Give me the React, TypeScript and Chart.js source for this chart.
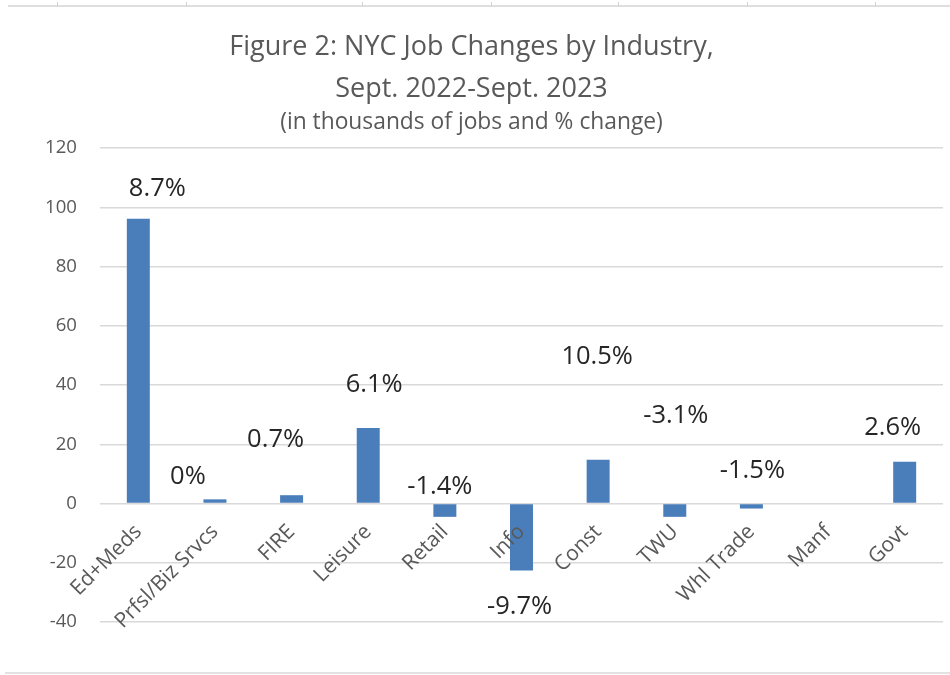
import React, { useEffect, useRef } from 'react';
import { Chart, registerables } from 'chart.js';

Chart.register(...registerables);

// ---- data ----
const categories = ['Ed+Meds', 'Prfsl/Biz Srvcs', 'FIRE', 'Leisure', 'Retail', 'Info', 'Const', 'TWU', 'Whl Trade', 'Manf', 'Govt'];
const jobChangeThousands = [96.1, 1.4, 2.8, 25.5, -4.5, -22.6, 14.8, -4.5, -1.7, 0, 14.1];
const pctChangeLabels = ['8.7%', '0%', '0.7%', '6.1%', '-1.4%', '-9.7%', '10.5%', '-3.1%', '-1.5%', '', '2.6%'];
// where each % label sits, in y-axis units (labels were placed by hand in the original)
const pctLabelAnchor = [106.3, 8.9, 21.6, 40.1, 5.5, -34.8, 49.5, 29.7, 10.9, null, 25.6];
const pctLabelShiftPx = [19, -27, -16, 6, -5, -2, -1, 1, 1, 0, -12];
const yMin = -40;
const yMax = 120;
const yStep = 20;
const titleLines = ['Figure 2: NYC Job Changes by Industry,', 'Sept. 2022-Sept. 2023'];
const subtitleText = '(in thousands of jobs and % change)';

const FONT = '"Open Sans"';
const GREY = '#595959';
const GRID = '#d9d9d9';
const BAR = '#4a7ebb';

const pctLabelPlugin = {
  id: 'pctLabels',
  afterDatasetsDraw(chart: any) {
    const { ctx } = chart;
    const x = chart.scales.x;
    const y = chart.scales.y;
    ctx.save();
    ctx.font = `25.5px ${FONT}`;
    ctx.fillStyle = '#262626';
    ctx.textAlign = 'center';
    ctx.textBaseline = 'middle';
    pctChangeLabels.forEach((t, i) => {
      const a = pctLabelAnchor[i];
      if (!t || a === null) return;
      ctx.fillText(t, x.getPixelForValue(i) + pctLabelShiftPx[i], y.getPixelForValue(a));
    });
    ctx.restore();
  },
};

export default function App() {
  const ref = useRef<HTMLCanvasElement | null>(null);

  useEffect(() => {
    if (!ref.current) return;
    const chart = new Chart(ref.current, {
      type: 'bar',
      data: {
        labels: categories,
        datasets: [
          {
            data: jobChangeThousands,
            backgroundColor: BAR,
            borderWidth: 0,
            barPercentage: 0.3,
            categoryPercentage: 1,
          },
        ],
      },
      options: {
        animation: false,
        responsive: false,
        maintainAspectRatio: false,
        layout: { padding: { left: 0, right: 7, top: 0, bottom: 53 } },
        plugins: {
          legend: { display: false },
          tooltip: { enabled: false },
          title: {
            display: true,
            text: titleLines,
            color: GREY,
            font: { family: FONT, size: 27, weight: 'normal', lineHeight: 1.556 },
            padding: { top: 26, bottom: 0 },
          },
          subtitle: {
            display: true,
            text: subtitleText,
            color: GREY,
            font: { family: FONT, size: 22.8, weight: 'normal', lineHeight: 1.1 },
            padding: { top: 0, bottom: 12.9 },
          },
        },
        scales: {
          x: {
            type: 'category',
            position: { y: 0 } as any,
            grid: { display: false, drawTicks: false },
            border: { display: false },
            ticks: {
              z: 1,
              autoSkip: false,
              minRotation: 45,
              maxRotation: 45,
              color: GREY,
              font: { family: FONT, size: 21 },
              padding: 16,
            },
          },
          y: {
            min: yMin,
            max: yMax,
            ticks: {
              stepSize: yStep,
              color: GREY,
              font: { family: FONT, size: 18.6 },
              padding: 23,
            },
            grid: { color: GRID, lineWidth: 1.5, drawTicks: false },
            border: { display: false },
            afterFit(scale: any) {
              scale.width = 100;
            },
          },
        },
      },
      plugins: [pctLabelPlugin],
    } as any);
    return () => chart.destroy();
  }, []);

  const tickXs = [57, 186, 362, 491, 618, 747, 875];

  return (
    <div style={{ position: 'absolute', left: 0, top: 0, width: 950, height: 675, background: '#fff', overflow: 'hidden' }}>
      <canvas ref={ref} width={950} height={675} style={{ position: 'absolute', left: 0, top: 0 }} />
      <div style={{ position: 'absolute', left: 8, top: 5, width: 942, height: 2, background: '#dedede' }} />
      {tickXs.map((tx) => (
        <div key={tx} style={{ position: 'absolute', left: tx, top: 2, width: 1, height: 4, background: '#d0d0d0' }} />
      ))}
      <div style={{ position: 'absolute', left: 5, top: 672, width: 945, height: 2, background: '#e2e2e2' }} />
    </div>
  );
}
